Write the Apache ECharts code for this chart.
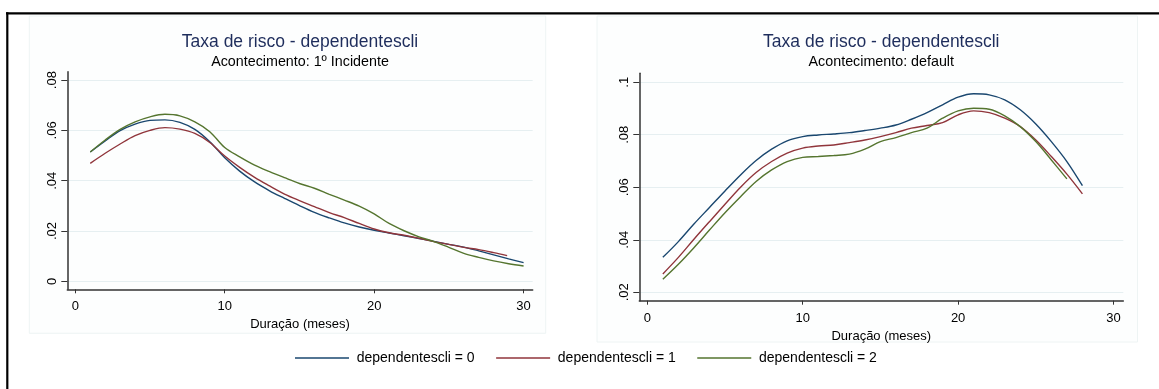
<!DOCTYPE html>
<html>
<head>
<meta charset="utf-8">
<script src="https://cdn.jsdelivr.net/npm/echarts@6/dist/echarts.min.js"></script>
<style>
html,body{margin:0;padding:0;background:#fff;}
#c{width:1159px;height:389px;}
</style>
</head>
<body>
<div id="c"></div>
<script>
// ---- data ----
var seriesNames = ['dependentescli = 0', 'dependentescli = 1', 'dependentescli = 2'];
var titleText = 'Taxa de risco - dependentescli';
var leftSubtitle = 'Acontecimento: 1º Incidente';
var rightSubtitle = 'Acontecimento: default';
var xAxisTitle = 'Duração (meses)';

// Left chart (1º Incidente): months and hazard values
var leftMonths0 = [1,2,3,4,5,6,7,8,9,10,11,12,13,14,15,16,17,18,19,20,21,22,23,24,25,26,27,28,29,30];
var leftDep0 = [0.0514,0.0558,0.0599,0.0625,0.0640,0.0642,0.0632,0.0604,0.0555,0.0491,0.0438,0.0395,0.0360,0.0330,0.0301,0.0274,0.0252,0.0232,0.0216,0.0203,0.0192,0.0181,0.0170,0.0159,0.0147,0.0136,0.0121,0.0105,0.0089,0.0074];
var leftMonths1 = [1,2,3,4,5,6,7,8,9,10,11,12,13,14,15,16,17,18,19,20,21,22,23,24,25,26,27,28,28.9];
var leftDep1 = [0.0469,0.0509,0.0546,0.0579,0.0600,0.0611,0.0605,0.0588,0.0552,0.0498,0.0453,0.0413,0.0379,0.0347,0.0321,0.0297,0.0273,0.0253,0.0230,0.0208,0.0193,0.0183,0.0171,0.0158,0.0147,0.0135,0.0126,0.0114,0.0102];
var leftMonths2 = [1,2,3,4,5,6,7,8,9,10,11,12,13,14,15,16,17,18,19,20,21,22,23,24,25,26,27,28,29,30];
var leftDep2 = [0.0514,0.0562,0.0604,0.0634,0.0654,0.0664,0.0658,0.0634,0.0595,0.0532,0.0495,0.0462,0.0436,0.0412,0.0389,0.0370,0.0346,0.0323,0.0299,0.0268,0.0230,0.0201,0.0177,0.0158,0.0135,0.0111,0.0095,0.0081,0.0070,0.0061];

// Right chart (default)
var rightMonths0 = [1,2,3,4,5,6,7,8,9,10,11,12,13,14,15,16,17,18,19,20,21,22,23,24,25,26,27,28];
var rightDep0 = [0.0333,0.0393,0.0460,0.0523,0.0586,0.0647,0.0702,0.0745,0.0777,0.0793,0.0799,0.0803,0.0808,0.0816,0.0825,0.0837,0.0859,0.0884,0.0914,0.0943,0.0956,0.0952,0.0933,0.0895,0.0841,0.0774,0.0698,0.0606];
var rightMonths1 = [1,2,3,4,5,6,7,8,9,10,11,12,13,14,15,16,17,18,19,20,21,22,23,24,25,26,27,28];
var rightDep1 = [0.0270,0.0333,0.0402,0.0469,0.0535,0.0600,0.0656,0.0698,0.0730,0.0749,0.0757,0.0761,0.0770,0.0780,0.0793,0.0808,0.0825,0.0835,0.0846,0.0876,0.0891,0.0884,0.0863,0.0831,0.0780,0.0717,0.0650,0.0575];
var rightMonths2 = [1,2,3,4,5,6,7,8,9,10,11,12,13,14,15,16,17,18,19,20,21,22,23,24,25,26,27];
var rightDep2 = [0.0250,0.0307,0.0370,0.0437,0.0503,0.0564,0.0622,0.0666,0.0698,0.0714,0.0717,0.0721,0.0726,0.0745,0.0774,0.0789,0.0808,0.0825,0.0863,0.0891,0.0901,0.0897,0.0872,0.0831,0.0774,0.0704,0.0632];

// tick values
var xTicks = [0, 10, 20, 30];
var leftYTicks = [0, 0.02, 0.04, 0.06, 0.08];
var rightYTicks = [0.02, 0.04, 0.06, 0.08, 0.1];

// ---- styling ----
var FONT = "'Liberation Sans', Arial, Helvetica, sans-serif";
var colors = ['#1a476f', '#90353b', '#55752f'];
var gridColor = '#e6eff1';
var axisColor = '#333';

function pairs(xs, ys) { return xs.map(function (x, i) { return [x, ys[i]]; }); }
function yFmt(v) {
  if (Math.abs(v) < 1e-9) return '0';
  return String(+v.toFixed(2)).replace(/^0/, '');
}

function makeX(idx, min, max) {
  return {
    type: 'value', gridIndex: idx, min: min, max: max,
    name: xAxisTitle, nameLocation: 'middle', nameGap: 19,
    nameTextStyle: { fontFamily: FONT, fontSize: 13, color: '#000' },
    axisLine: { show: true, onZero: false, lineStyle: { color: axisColor, width: 1.5 } },
    axisTick: { show: true, length: 4, customValues: xTicks, lineStyle: { color: axisColor, width: 1 } },
    axisLabel: { customValues: xTicks, margin: 11, fontFamily: FONT, fontSize: 13, color: '#000' },
    splitLine: { show: false }
  };
}
function makeY(idx, min, max, ticks) {
  return {
    type: 'value', gridIndex: idx, min: min, max: max,
    axisLine: { show: true, onZero: false, lineStyle: { color: axisColor, width: 1.5 } },
    axisTick: { show: true, length: 6, customValues: ticks, lineStyle: { color: axisColor, width: 1 } },
    axisLabel: { customValues: ticks, rotate: 90, margin: 8, fontFamily: FONT, fontSize: 13, color: '#000', formatter: yFmt },
    splitLine: { show: false }
  };
}
// background gridlines drawn by an empty helper series placed below the curves
function gridSeries(axisIdx, ticks) {
  return {
    name: 'grid' + axisIdx, type: 'line', xAxisIndex: axisIdx, yAxisIndex: axisIdx,
    data: [], z: 0, silent: true,
    markLine: {
      z: 0, silent: true, symbol: 'none', label: { show: false }, animation: false,
      lineStyle: { color: gridColor, width: 1, type: 'solid' },
      emphasis: { disabled: true },
      data: ticks.map(function (t) { return { yAxis: t }; })
    }
  };
}
function makeSeries(name, k, axisIdx, data) {
  return {
    name: name, type: 'line', xAxisIndex: axisIdx, yAxisIndex: axisIdx,
    data: data, symbol: 'none', smooth: 0.35, z: 6,
    lineStyle: { color: colors[k], width: 1.4 },
    itemStyle: { color: colors[k] },
    emphasis: { disabled: true }
  };
}

var chart = echarts.init(document.getElementById('c'), null, { renderer: 'canvas' });
chart.setOption({
  backgroundColor: '#ffffff',
  animation: false,
  textStyle: { fontFamily: FONT },
  graphic: [
    { type: 'rect', z: -10, shape: { x: 29.3, y: 16, width: 516.4, height: 317.3 }, style: { fill: '#fdfefe', stroke: '#eef4f4', lineWidth: 1 } },
    { type: 'rect', z: -10, shape: { x: 597, y: 16, width: 540.5, height: 326 }, style: { fill: '#fdfefe', stroke: '#eef4f4', lineWidth: 1 } },
    { type: 'line', z: 10, shape: { x1: 6, y1: 13.3, x2: 1159, y2: 13.3 }, style: { stroke: '#000', lineWidth: 2.2 } },
    { type: 'line', z: 10, shape: { x1: 7.3, y1: 12.2, x2: 7.3, y2: 389 }, style: { stroke: '#000', lineWidth: 2.2 } }
  ],
  title: [
    { text: titleText, left: 300, top: 33, textAlign: 'center', padding: 0, textStyle: { fontFamily: FONT, fontSize: 17.5, fontWeight: 'normal', color: '#1e2d5c' } },
    { text: leftSubtitle, left: 300, top: 55, textAlign: 'center', padding: 0, textStyle: { fontFamily: FONT, fontSize: 14.3, fontWeight: 'normal', color: '#000' } },
    { text: titleText, left: 881.3, top: 33, textAlign: 'center', padding: 0, textStyle: { fontFamily: FONT, fontSize: 17.5, fontWeight: 'normal', color: '#1e2d5c' } },
    { text: rightSubtitle, left: 881.3, top: 55, textAlign: 'center', padding: 0, textStyle: { fontFamily: FONT, fontSize: 14.3, fontWeight: 'normal', color: '#000' } }
  ],
  legend: {
    data: seriesNames, left: 295, top: 351, orient: 'horizontal',
    icon: 'rect', itemWidth: 54, itemHeight: 1.6, itemGap: 21.5, padding: 0,
    textStyle: { fontFamily: FONT, fontSize: 14, color: '#000', padding: [0, 0, 0, 2.7] },
    selectedMode: false
  },
  grid: [
    { left: 67.3, top: 71.7, width: 465.4, height: 217.6, containLabel: false },
    { left: 639.3, top: 73.3, width: 484, height: 227.4, containLabel: false }
  ],
  xAxis: [ makeX(0, -0.536, 30.61), makeX(1, -0.515, 30.63) ],
  yAxis: [ makeY(0, -0.00318, 0.08334, leftYTicks), makeY(1, 0.0168, 0.1034, rightYTicks) ],
  series: [
    gridSeries(0, leftYTicks),
    gridSeries(1, rightYTicks),
    makeSeries(seriesNames[0], 0, 0, pairs(leftMonths0, leftDep0)),
    makeSeries(seriesNames[1], 1, 0, pairs(leftMonths1, leftDep1)),
    makeSeries(seriesNames[2], 2, 0, pairs(leftMonths2, leftDep2)),
    makeSeries(seriesNames[0], 0, 1, pairs(rightMonths0, rightDep0)),
    makeSeries(seriesNames[1], 1, 1, pairs(rightMonths1, rightDep1)),
    makeSeries(seriesNames[2], 2, 1, pairs(rightMonths2, rightDep2))
  ]
});
</script>
</body>
</html>
